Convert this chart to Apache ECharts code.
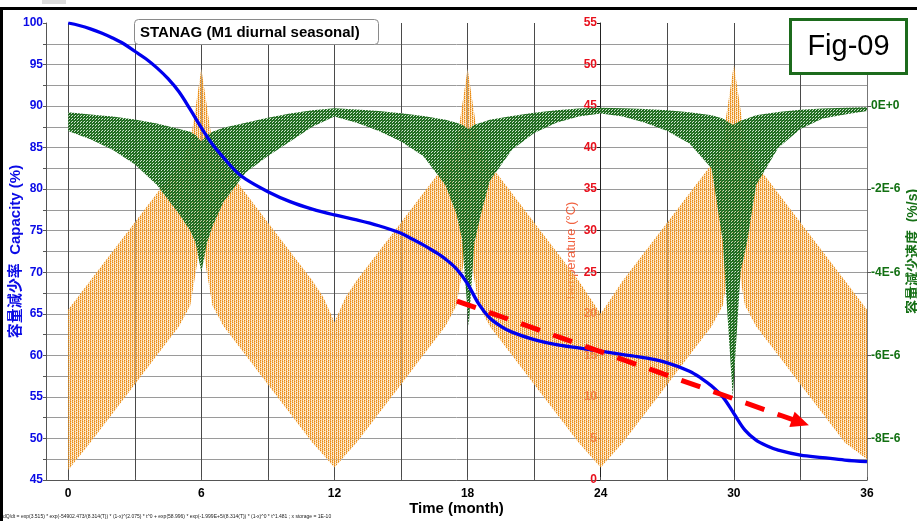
<!DOCTYPE html>
<html><head><meta charset="utf-8">
<script src="https://cdn.jsdelivr.net/npm/echarts@6/dist/echarts.min.js"></script>
<style>html,body{margin:0;padding:0;background:#fff}#c{width:917px;height:521px}</style>
</head><body><div id="c"></div>
<script>
// ---------- data ----------
const monthTicks = [0,3,6,9,12,15,18,21,24,27,30,33,36];
const monthLabels = [0,6,12,18,24,30,36];
const rateTicks = [0,-2,-4,-6,-8];

const capTime  = [0,0.5,1,1.5,2,2.5,3,3.5,4,4.5,5,5.5,6,6.5,7,7.5,8,9,10,11,12,13,14,15,15.5,16,16.5,17,17.5,18,18.5,19,19.5,20,21,22,23,24,25,26,27,28,28.5,29,29.5,30,30.5,31,31.5,32,33,34,35,36];
const capValue = [100,99.7,99.3,98.8,98.2,97.5,96.6,95.7,94.6,93.3,91.7,89.6,87.4,85.4,83.8,82.3,81.2,79.7,78.5,77.6,76.9,76.3,75.6,74.7,74.0,73.3,72.5,71.6,70.4,68.6,66.2,64.5,63.5,62.8,61.9,61.3,60.9,60.5,60.1,59.7,59.1,58.1,57.3,56.3,55.0,53.0,51.0,49.8,49.1,48.6,48.0,47.7,47.4,47.2];

const tempTime = [0,1,2,3,4,5,5.5,6,6.5,7,8,9,10,11,11.5,12,12.5,13,14,15,16,17,17.5,18,18.5,19,20,21,22,23,23.5,24,24.5,25,26,27,28,29,29.5,30,30.5,31,32,33,34,35,36];
const tempHigh = [20.5,24,27.5,31,34.5,38,40.5,49.5,40.5,38,34.5,31,27.5,24,22,19,22,24,27.5,31,34.5,38,40.5,49.5,40.5,38,34.5,31,27.5,24,22,20,22,24,27.5,31,34.5,38,41,50,41,38,34.5,31,27.5,24,20.5];
const tempLow  = [1.2,4.5,8,11.5,15,18.5,21,29,21,18.5,15,11.5,8,4.5,3,1.5,3,4.5,8,11.5,15,18.5,21,29,21,18.5,15,11.5,8,4.5,3,1.5,3,4.5,8,11.5,15,18.5,21,29,21,18.5,15,11.5,8,4.5,2.5];

// capacity-loss rate, in units of 1E-6 %/s
const rateTime = [0,1,2,3,4,5,5.5,5.75,6,6.25,6.5,7,8,9,10,11,12,13,14,15,16,17,17.5,17.75,18.05,18.3,18.6,19,20,21,22,23,24,25,26,27,28,29,29.5,29.95,30.3,30.6,31,32,33,34,35,36];
const rateHigh = [-0.15,-0.2,-0.25,-0.32,-0.42,-0.55,-0.62,-0.7,-0.85,-0.7,-0.62,-0.52,-0.4,-0.28,-0.18,-0.1,-0.05,-0.08,-0.12,-0.17,-0.24,-0.33,-0.4,-0.45,-0.55,-0.45,-0.4,-0.33,-0.24,-0.16,-0.1,-0.06,-0.04,-0.05,-0.07,-0.1,-0.15,-0.22,-0.3,-0.45,-0.35,-0.3,-0.22,-0.14,-0.09,-0.06,-0.04,-0.03];
const rateLow  = [-0.6,-0.8,-1.05,-1.4,-1.9,-2.6,-3.0,-3.3,-4.0,-3.3,-2.9,-2.3,-1.6,-1.2,-0.85,-0.5,-0.25,-0.4,-0.6,-0.85,-1.2,-1.9,-2.6,-3.2,-5.3,-3.3,-2.6,-1.8,-1.05,-0.65,-0.4,-0.25,-0.18,-0.25,-0.4,-0.6,-0.9,-1.5,-3.25,-7.0,-4.0,-3.25,-1.9,-1.0,-0.55,-0.3,-0.2,-0.12];

const trendArrow = [[17.52,66.54],[33.0,51.94]];

// ---------- styles ----------
function makePattern(w,h,cells){
  const c=document.createElement('canvas'); c.width=w; c.height=h;
  const ctx=c.getContext('2d');
  for(let y=0;y<h;y++) for(let x=0;x<w;x++){ ctx.fillStyle=cells[y][x]; ctx.fillRect(x,y,1,1); }
  return c;
}
const O1='#e8890f', O2='rgba(240,160,60,0.88)', O3='rgba(248,198,128,0.7)', O4='rgba(253,232,200,0.5)';
const orangePat = {image: makePattern(4,4,[
  [O1,O3,O2,O4],
  [O2,O4,O1,O3],
  [O1,O3,O2,O4],
  [O3,O4,O1,O3]]), repeat:'repeat'};
const G1='#1b661b', G2='#3c883c', G3='rgba(185,215,185,0.7)';
const greenPat = {image: makePattern(3,3,[
  [G1,G2,G1],
  [G3,G1,G2],
  [G1,G1,G3]]), repeat:'repeat'};

function bandSeries(name, yAxisIndex, times, hi, lo, fill, z){
  const data = times.map((t,i)=>[t,hi[i],lo[i]]);
  return {
    type:'custom', name, xAxisIndex:0, yAxisIndex, z, silent:true, clip:true,
    data, encode:{x:0, y:[1,2]},
    renderItem(params, api){
      if (params.dataIndex !== 0) return null;
      const pts=[];
      for (let i=0;i<data.length;i++) pts.push(api.coord([data[i][0], data[i][1]]));
      for (let i=data.length-1;i>=0;i--) pts.push(api.coord([data[i][0], data[i][2]]));
      return {type:'polygon', shape:{points:pts}, style:{fill:fill, stroke:null}};
    }
  };
}

const FONT = "'Liberation Sans', Arial, 'Noto Sans CJK JP', sans-serif";
const hGrid = Array(11).fill('#9a9a9a').concat(['rgba(0,0,0,0)']);

const chart = echarts.init(document.getElementById('c'), null, {renderer:'canvas'});
chart.setOption({
  animation:false,
  backgroundColor:'#fff',
  textStyle:{fontFamily:FONT},
  grid:{left:46, right:50, top:23, bottom:41, containLabel:false, outerBoundsMode:'none'},
  xAxis:{
    type:'value', min:-1, max:36,
    name:'Time (month)', nameLocation:'middle', nameGap:21, nameMoveOverlap:false,
    nameTextStyle:{fontSize:15, fontWeight:'bold', color:'#000', fontFamily:FONT},
    axisLine:{show:true, onZero:false, lineStyle:{color:'#555', width:1}},
    axisTick:{show:true, customValues:monthTicks, inside:true, length:3, lineStyle:{color:'#555'}},
    axisLabel:{customValues:monthLabels, color:'#000', fontSize:12, fontWeight:'bold', margin:8, fontFamily:FONT},
    splitLine:{show:true, lineStyle:{color:'#4a4a4a', width:1}}
  },
  yAxis:[
    { type:'value', min:45, max:100, interval:5, position:'left',
      name:'容量減少率  Capacity (%)', nameLocation:'middle', nameGap:23, nameRotate:90, nameMoveOverlap:false,
      nameTextStyle:{color:'#0a0ae6', fontSize:15, fontWeight:'bold', fontFamily:FONT},
      axisLine:{show:true, onZero:false, lineStyle:{color:'#555'}},
      axisTick:{show:true, length:3, lineStyle:{color:'#555'}},
      minorTick:{show:true, splitNumber:2, length:3, lineStyle:{color:'#555'}},
      axisLabel:{color:'#0a0ae6', fontSize:12, fontWeight:'bold', margin:3, fontFamily:FONT},
      splitLine:{show:true, lineStyle:{color:hGrid, width:1}},
      minorSplitLine:{show:true, lineStyle:{color:'#9a9a9a', width:1}}
    },
    { type:'value', min:0, max:55, interval:5, position:'left', offset:-554,
      name:'Temperature (°C)', nameLocation:'middle', nameGap:22, nameRotate:90, nameMoveOverlap:false,
      nameTextStyle:{color:'rgba(238,70,30,0.85)', fontSize:13, fontFamily:FONT},
      axisLine:{show:true, onZero:false, lineStyle:{color:'#222', width:1}},
      axisTick:{show:true, length:3, lineStyle:{color:'#222'}},
      axisLabel:{color:'#e8101c', fontSize:12, fontWeight:'bold', margin:3, fontFamily:FONT},
      splitLine:{show:false}
    },
    { type:'value', min:-9, max:2, interval:1, position:'right',
      name:'容量減少速度  (%/s)', nameLocation:'middle', nameGap:39, nameRotate:90, nameMoveOverlap:false,
      nameTextStyle:{color:'#167016', fontSize:14, fontWeight:'bold', fontFamily:FONT},
      axisLine:{show:true, onZero:false, lineStyle:{color:'#777'}},
      axisTick:{show:true, customValues:rateTicks, length:4, lineStyle:{color:'#555'}},
      axisLabel:{customValues:rateTicks, color:'#127012', fontSize:12, fontWeight:'bold', margin:4, fontFamily:FONT,
        formatter:v=> v===0 ? '0E+0' : (v+'E-6')},
      splitLine:{show:false}
    }
  ],
  series:[
    bandSeries('Temperature',1,tempTime,tempHigh,tempLow,orangePat,2),
    bandSeries('Rate',2,rateTime,rateHigh,rateLow,greenPat,3),
    { type:'line', name:'Capacity', xAxisIndex:0, yAxisIndex:0, z:5,
      data: capTime.map((t,i)=>[t,capValue[i]]),
      smooth:0.35, showSymbol:false, symbol:'none',
      lineStyle:{color:'#0000ee', width:3.3},
      markLine:{ silent:true, symbol:['none','triangle'], symbolSize:[16,18], z:6,
        label:{show:false},
        lineStyle:{color:'#ff0000', width:5, type:[20,14], opacity:1},
        data:[[{coord:trendArrow[0]},{coord:trendArrow[1]}]] }
    }
  ],
  graphic:[
    {type:'rect', z:100, shape:{x:0,y:7,width:917,height:3}, style:{fill:'#000'}},
    {type:'rect', z:100, shape:{x:0,y:7,width:3,height:514}, style:{fill:'#000'}},
    {type:'rect', z:100, shape:{x:42,y:0,width:24,height:4}, style:{fill:'#dcdcdc'}},
    {type:'rect', z:100, shape:{x:134.5,y:19.5,width:244,height:25,r:4}, style:{fill:'#fff', stroke:'#8a8a8a', lineWidth:1}},
    {type:'text', z:101, x:140, y:32.5, style:{text:'STANAG (M1 diurnal seasonal)', font:"bold 15px 'Liberation Sans', Arial, sans-serif", fill:'#000', verticalAlign:'middle', align:'left'}},
    {type:'rect', z:100, shape:{x:790.5,y:19.5,width:116,height:54}, style:{fill:'#fff', stroke:'#1c6b1c', lineWidth:3}},
    {type:'text', z:101, x:848.5, y:47, style:{text:'Fig-09', font:"29px 'Liberation Sans', Arial, sans-serif", fill:'#000', verticalAlign:'middle', align:'center'}},
    {type:'text', z:101, x:3, y:517, style:{text:'dQ/dt = exp(3.515) * exp(-54902.473/(8.314(T)) * (1-x)^(2.075) * t^0 + exp(58.996) * exp(-1.999E+5/(8.314(T)) * (1-x)^0 * t^1.481 ; x storage = 1E-10', font:"5px 'Liberation Sans', Arial, sans-serif", fill:'#222', verticalAlign:'middle', align:'left'}}
  ]
});
</script>
</body></html>
